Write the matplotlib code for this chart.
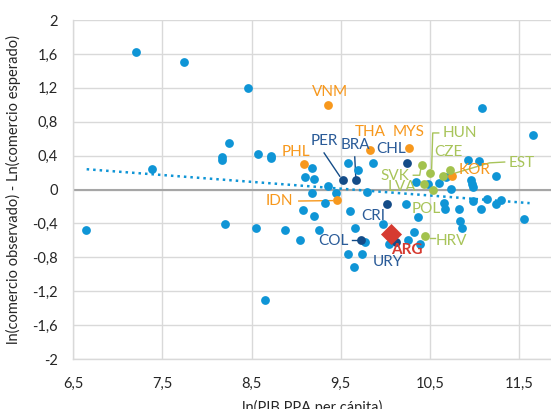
import matplotlib
matplotlib.use("Agg")
import matplotlib.pyplot as plt
from matplotlib.ticker import FuncFormatter

plt.rcParams['font.family'] = ['Lato', 'DejaVu Sans']

# ln(GDP PPP per capita) vs ln(observed trade) - ln(expected trade)
other_x = [7.20, 7.744, 8.462, 7.379, 8.170, 8.170, 8.249, 8.567, 8.713, 8.724,
           6.646, 8.201, 8.548, 8.649, 11.085, 11.657, 9.173, 9.583, 9.695, 9.863,
           9.098, 9.202, 9.359, 9.184, 9.453, 9.796, 10.350, 10.603, 10.686, 10.734,
           10.928, 11.052, 10.966, 10.978, 10.984, 11.247, 10.480, 9.078, 9.202, 9.322,
           9.602, 10.238, 10.368, 10.659, 10.667, 10.827, 10.984, 11.071, 11.146, 11.239,
           11.295, 11.556, 10.835, 10.866, 8.873, 9.042, 9.258, 9.658, 9.975, 9.770,
           10.043, 10.256, 10.320, 10.395, 9.583, 9.740, 9.647]
other_y = [1.625, 1.507, 1.196, 0.243, 0.385, 0.354, 0.550, 0.420, 0.401, 0.370,
           -0.481, -0.401, -0.453, -1.299, 0.963, 0.641, 0.260, 0.314, 0.228, 0.319,
           0.149, 0.122, 0.039, -0.044, -0.035, -0.028, 0.090, 0.083, 0.149, 0.012,
           0.346, 0.334, 0.118, 0.071, 0.031, 0.161, 0.071, -0.236, -0.312, -0.153,
           -0.256, -0.174, -0.323, -0.153, -0.224, -0.233, -0.138, -0.233, -0.115, -0.174,
           -0.126, -0.342, -0.374, -0.449, -0.481, -0.590, -0.472, -0.449, -0.410, -0.619,
           -0.638, -0.590, -0.501, -0.638, -0.764, -0.764, -0.914]

asia_codes = ['VNM', 'THA', 'MYS', 'PHL', 'KOR', 'IDN']
asia_x = [9.359, 9.834, 10.267, 9.086, 10.753, 9.464]
asia_y = [0.992, 0.472, 0.488, 0.302, 0.157, -0.126]

latam_codes = ['PER', 'BRA', 'CHL', 'CRI', 'COL', 'URY']
latam_x = [9.527, 9.677, 10.249, 10.020, 9.733, 10.126]
latam_y = [0.118, 0.110, 0.319, -0.165, -0.599, -0.622]

europe_codes = ['SVK', 'HUN', 'CZE', 'EST', 'LVA', 'POL', 'HRV']
europe_x = [10.417, 10.507, 10.648, 10.723, 10.435, 10.536, 10.443]
europe_y = [0.287, 0.196, 0.161, 0.228, 0.071, -0.008, -0.548]

arg_x, arg_y = 10.069, -0.528

trend_x = [6.65, 11.62]
trend_y = [0.24, -0.16]

x_ticks = [6.5, 7.5, 8.5, 9.5, 10.5, 11.5]
y_ticks = [-2, -1.6, -1.2, -0.8, -0.4, 0, 0.4, 0.8, 1.2, 1.6, 2]

BLUE = '#0f95d6'
ORANGE = '#f7981d'
DARK = '#144c88'
DARK_TXT = '#2a5b98'
GREEN = '#a3c24d'
GREEN_TXT = '#a8c45a'
RED = '#d63a30'

# label placement (data coords) and optional leader lines
label_pos = {
    'VNM': (9.38, 1.15), 'THA': (9.834, 0.675), 'MYS': (10.267, 0.675),
    'PHL': (9.00, 0.444), 'KOR': (11.00, 0.228), 'IDN': (8.817, -0.135),
    'PER': (9.322, 0.57), 'BRA': (9.664, 0.525), 'CHL': (10.07, 0.484),
    'CRI': (9.863, -0.315), 'COL': (9.415, -0.607), 'URY': (10.031, -0.855),
    'SVK': (10.107, 0.157), 'HUN': (10.835, 0.668), 'CZE': (10.704, 0.444),
    'EST': (11.527, 0.314), 'LVA': (10.182, 0.035), 'POL': (10.462, -0.233),
    'HRV': (10.742, -0.61),
}
leaders = {
    'PER': ([9.314, 9.49], [0.432, 0.157], DARK),
    'BRA': ([9.658, 9.669], [0.385, 0.157], DARK),
    'IDN': ([9.03, 9.41], [-0.135, -0.13], ORANGE),
    'COL': ([9.625, 9.70], [-0.599, -0.599], DARK),
    'HUN': ([10.60, 10.533, 10.521], [0.668, 0.668, 0.251], GREEN_TXT),
    'SVK': ([10.315, 10.387, 10.398], [0.169, 0.169, 0.24], GREEN_TXT),
    'EST': ([11.34, 11.17, 10.77], [0.325, 0.315, 0.19], GREEN_TXT),
    'HRV': ([10.499, 10.56], [-0.571, -0.571], GREEN_TXT),
}


def main():
    fig = plt.figure(figsize=(5.51, 4.09), dpi=100)
    ax = fig.add_axes([0.133, 0.122, 0.867, 0.829])

    ax.set_xlim(6.5, 11.86)
    ax.set_ylim(-2, 2)
    ax.set_xticks(x_ticks)
    ax.set_yticks(y_ticks)
    fmt = FuncFormatter(lambda v, p: ('%g' % round(v, 1)).replace('.', ','))
    ax.xaxis.set_major_formatter(fmt)
    ax.yaxis.set_major_formatter(fmt)
    ax.grid(True, color='#d9d9d9', lw=1.0, zorder=0)
    ax.set_axisbelow(True)
    for s in ['top', 'right']:
        ax.spines[s].set_visible(False)
    for s in ['left', 'bottom']:
        ax.spines[s].set_color('#d9d9d9')
        ax.spines[s].set_linewidth(1.0)
    ax.axhline(0, color='#a6a6a6', lw=1.5, zorder=1)
    ax.tick_params(length=0, labelsize=10.5, colors='#262626', pad=11)
    ax.tick_params(axis='x', pad=13)

    for code, (xs, ys, c) in leaders.items():
        ax.plot(xs, ys, color=c, lw=1.0, zorder=2)

    ax.plot(trend_x, trend_y, color=BLUE, lw=1.8, ls=(0, (1, 1.6)), zorder=2)

    ax.scatter(other_x, other_y, s=40, color=BLUE, lw=0, zorder=3)
    ax.scatter(asia_x, asia_y, s=40, color=ORANGE, lw=0, zorder=4)
    ax.scatter(latam_x, latam_y, s=40, color=DARK, lw=0, zorder=4)
    ax.scatter(europe_x, europe_y, s=40, color=GREEN, lw=0, zorder=4)
    ax.scatter([arg_x], [arg_y], s=115, marker='D', color=RED, lw=0, zorder=5)

    groups = [(asia_codes, ORANGE), (latam_codes, DARK_TXT), (europe_codes, GREEN_TXT)]
    for codes, c in groups:
        for code in codes:
            lx, ly = label_pos[code]
            ax.text(lx, ly, code, color=c, fontsize=11, ha='center', va='center', zorder=6)
    ax.text(10.238, -0.708, 'ARG', color=RED, fontsize=11, fontweight='bold',
            ha='center', va='center', zorder=6)

    ax.set_xlabel('ln(PIB PPA per cápita)', fontsize=10.5, color='#262626', labelpad=6)
    ax.set_ylabel('ln(comercio observado) - Ln(comercio esperado)', fontsize=10.5,
                  color='#262626', labelpad=8)

    fig.savefig('out.png', dpi=100)
    plt.close(fig)


if __name__ == '__main__':
    main()
